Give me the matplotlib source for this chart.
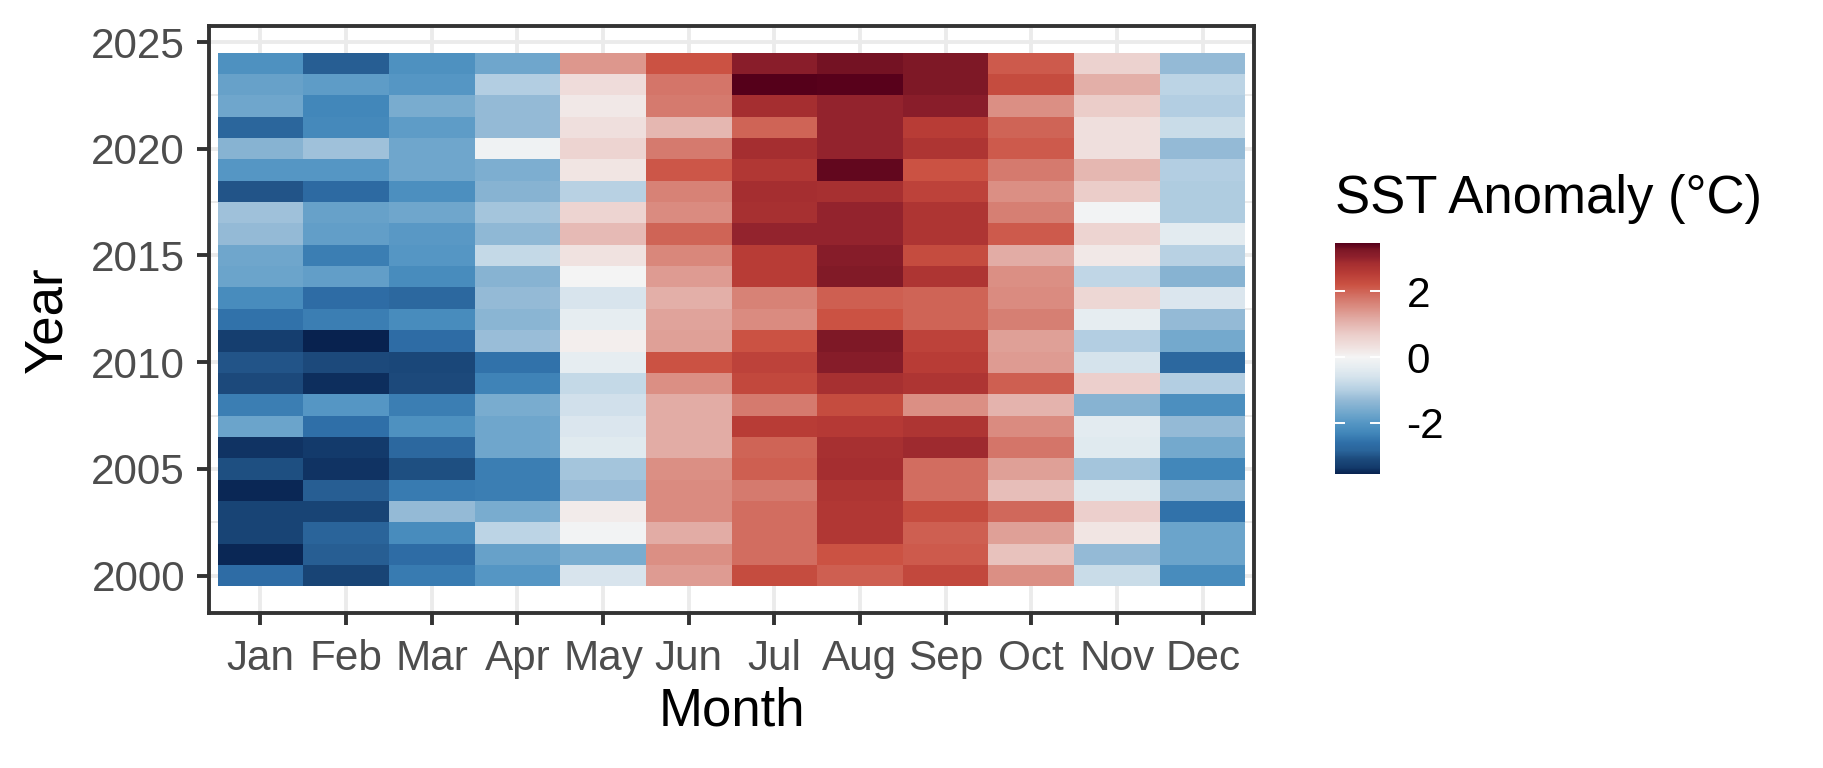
import numpy as np
import matplotlib
matplotlib.use("Agg")
import matplotlib.pyplot as plt
import matplotlib.transforms as mtransforms
from matplotlib.colors import LinearSegmentedColormap, Normalize

plt.rcParams['font.family'] = ['Liberation Sans', 'DejaVu Sans']
plt.rcParams['axes.unicode_minus'] = False

months = ["Jan", "Feb", "Mar", "Apr", "May", "Jun",
          "Jul", "Aug", "Sep", "Oct", "Nov", "Dec"]
years = list(range(2000, 2025))

# SST anomaly (°C) per month, years 2000..2024
jan = [-2.65, -3.5, -3.2, -3.2, -3.5, -3.05, -3.4, -1.75, -2.4, -3.1, -3.0, -3.3, -2.55,
       -2.2, -1.75, -1.7, -1.3, -1.2, -3.0, -2.0, -1.45, -2.8, -1.7, -1.8, -2.1]
feb = [-3.2, -2.9, -2.85, -3.2, -2.9, -3.4, -3.35, -2.6, -2.0, -3.45, -3.1, -3.55, -2.4,
       -2.65, -1.85, -2.4, -1.85, -1.8, -2.7, -2.0, -1.2, -2.25, -2.3, -1.9, -2.9]
mar = [-2.45, -2.65, -2.2, -1.3, -2.45, -3.05, -2.75, -2.1, -2.4, -3.1, -3.15, -2.65, -2.2,
       -2.75, -2.2, -2.0, -1.95, -1.7, -2.15, -1.7, -1.7, -1.9, -1.6, -2.0, -2.1]
apr = [-2.0, -1.8, -0.9, -1.6, -2.4, -2.4, -1.7, -1.7, -1.6, -2.35, -2.55, -1.25, -1.4,
       -1.3, -1.45, -0.8, -1.35, -1.15, -1.45, -1.55, -0.1, -1.3, -1.3, -1.0, -1.7]
may = [-0.55, -1.6, -0.05, 0.15, -1.25, -1.15, -0.4, -0.5, -0.65, -0.8, -0.3, 0.1, -0.3,
       -0.55, 0.0, 0.3, 0.95, 0.55, -0.95, 0.25, 0.55, 0.35, 0.2, 0.4, 1.4]
jun = [1.35, 1.5, 1.15, 1.55, 1.55, 1.5, 1.15, 1.15, 1.15, 1.5, 2.2, 1.3, 1.25,
       1.1, 1.35, 1.6, 2.0, 1.55, 1.65, 2.15, 1.75, 1.0, 1.75, 1.8, 2.2]
jul = [2.3, 1.9, 1.9, 1.9, 1.75, 2.05, 2.0, 2.55, 1.75, 2.35, 2.45, 2.2, 1.55,
       1.65, 2.55, 2.55, 3.0, 2.8, 2.85, 2.65, 2.85, 2.0, 2.85, 3.47, 3.1]
aug = [2.05, 2.2, 2.65, 2.65, 2.7, 2.85, 2.8, 2.6, 2.3, 2.8, 3.15, 3.25, 2.2,
       2.05, 3.2, 3.15, 3.0, 3.0, 2.8, 3.4, 3.0, 3.0, 3.0, 3.45, 3.3]
sep = [2.35, 2.1, 2.05, 2.3, 1.9, 1.9, 2.9, 2.7, 1.5, 2.7, 2.55, 2.45, 2.0,
       2.0, 2.7, 2.3, 2.7, 2.7, 2.45, 2.2, 2.7, 2.55, 3.1, 3.25, 3.25]
oct_ = [1.5, 0.85, 1.3, 1.95, 0.9, 1.3, 1.8, 1.55, 1.05, 2.05, 1.35, 1.3, 1.7,
        1.55, 1.5, 1.15, 2.1, 1.7, 1.5, 1.75, 2.1, 2.0, 1.5, 2.3, 2.1]
nov = [-0.75, -1.3, 0.25, 0.65, -0.4, -1.15, -0.4, -0.35, -1.45, 0.65, -0.6, -1.0, -0.3,
       0.5, -0.85, 0.2, 0.55, -0.05, 0.7, 1.0, 0.35, 0.35, 0.7, 1.1, 0.6]
dec = [-2.2, -1.75, -1.75, -2.55, -1.45, -2.3, -1.65, -1.3, -2.15, -1.0, -2.75, -1.65, -1.3,
       -0.5, -1.45, -0.95, -0.35, -1.05, -1.05, -1.0, -1.3, -0.75, -1.0, -0.9, -1.3]

year_breaks = [2000, 2005, 2010, 2015, 2020, 2025]
legend_breaks = [-2, 0, 2]

values = np.array([jan, feb, mar, apr, may, jun, jul, aug, sep, oct_, nov, dec]).T
vmin, vmax = values.min(), values.max()

# diverging blue-white-red gradient (anchor value -> colour)
grad_at = [-3.55, -3.35, -3.1, -2.85, -2.6, -2.3, -2.0, -1.7, -1.3, -1.0, -0.6, -0.3,
           0.0, 0.3, 0.7, 1.15, 1.5, 1.8, 2.2, 2.55, 2.85, 3.05, 3.25, 3.47]
grad_col = ["#08224F", "#133B6C", "#1C4A7C", "#2A649A", "#2F6FA8", "#4287BA",
            "#5596C4", "#70A7CC", "#94BAD6", "#B4CFE2", "#D5E3EC", "#E6EDF1",
            "#F4F4F4", "#F0E2E0", "#EBCDC9", "#E2ACA5", "#DB8F84", "#D4766A",
            "#CB5243", "#B83C36", "#A52E30", "#8E202C", "#7E1826", "#55001A"]
pos = np.clip((np.array(grad_at) - vmin) / (vmax - vmin), 0, 1)
pos[0], pos[-1] = 0.0, 1.0
cmap = LinearSegmentedColormap.from_list("sst", list(zip(pos, grad_col)), N=512)
norm = Normalize(vmin=vmin, vmax=vmax)

W, H = 1824, 768
DPI = 200
fig = plt.figure(figsize=(W / DPI, H / DPI), dpi=DPI)


def px(x0, y0, x1, y1):
    return [x0 / W, 1 - y1 / H, (x1 - x0) / W, (y1 - y0) / H]


ax = fig.add_axes(px(209, 26, 1254, 613))
x_edges = np.arange(len(months) + 1) + 0.5
y_edges = np.array(years + [years[-1] + 1]) - 0.5
mesh = ax.pcolormesh(x_edges, y_edges, values, cmap=cmap, norm=norm,
                     edgecolors='none', antialiased=False, zorder=2)

yr0, yr1 = y_edges[0], y_edges[-1]
pad_y = 0.05 * (yr1 - yr0)
ax.set_xlim(0.4, len(months) + 0.6)
ax.set_ylim(yr0 - pad_y, yr1 + pad_y)
ax.set_xticks(np.arange(1, len(months) + 1), months)
ax.set_yticks(year_breaks)
ax.set_yticks(np.array(year_breaks[:-1]) + 2.5, minor=True)

ax.set_axisbelow(True)
ax.grid(which='major', color='#EBEBEB', linewidth=1.4)
ax.grid(which='minor', axis='y', color='#EBEBEB', linewidth=0.7)

for s in ax.spines.values():
    s.set_color('#333333')
    s.set_linewidth(1.4)
    s.set_zorder(5)

ax.tick_params(which='major', length=4.3, width=1.4, color='#333333',
               labelsize=15.2, labelcolor='#4D4D4D')
ax.tick_params(axis='y', pad=4.3)
ax.tick_params(axis='x', pad=5.0)
ax.tick_params(which='minor', length=0)

ax.set_xlabel("Month", fontsize=19, color='black')
ax.set_ylabel("Year", fontsize=19, color='black')
ax.xaxis.set_label_coords(0.5, (613 - 712) / (613 - 26))
ax.xaxis.label.set_va('center')
ax.yaxis.set_label_coords((47 - 209) / (1254 - 209), 0.5)
ax.yaxis.label.set_va('center')

# colourbar
cax = fig.add_axes(px(1335, 243, 1380, 474))
cb = fig.colorbar(mesh, cax=cax, ticks=legend_breaks)
cb.outline.set_visible(False)
cb.ax.set_yticklabels([f"{v:g}" for v in legend_breaks])
cax.tick_params(length=0, labelsize=15.2, labelcolor='black', pad=9.5)
tr = mtransforms.blended_transform_factory(cax.transAxes, cax.transData)
for v in legend_breaks:
    cax.plot([0, 0.2], [v, v], color='white', lw=0.7, transform=tr, zorder=5)
    cax.plot([0.8, 1.0], [v, v], color='white', lw=0.7, transform=tr, zorder=5)

fig.text(1335 / W, 1 - 213 / H, "SST Anomaly (°C)", fontsize=19,
         ha='left', va='baseline', color='black')

fig.savefig("out.png", dpi=DPI)
